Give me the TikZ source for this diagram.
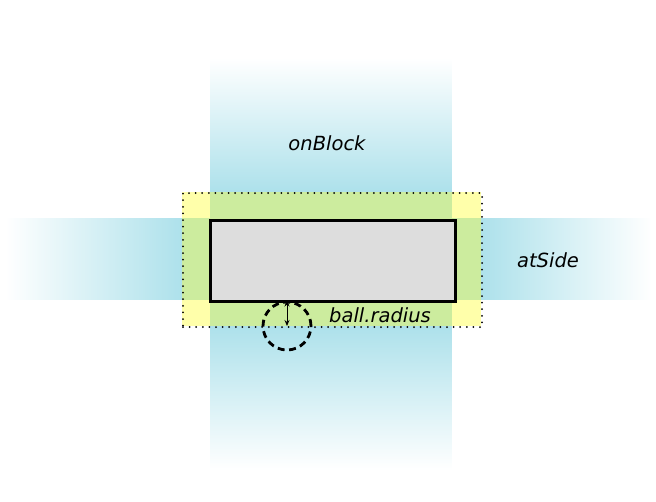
\documentclass[tikz,border=0pt]{standalone}
\usepackage{fontspec}
\setmainfont{DejaVu Sans}
\usetikzlibrary{arrows.meta}
\definecolor{bandcyan}{RGB}{173,225,235}
\definecolor{zoneyellow}{RGB}{255,255,170}
\definecolor{zonegreen}{RGB}{204,236,158}
\definecolor{blockgray}{RGB}{221,221,221}
\tikzset{
  lbl/.style={font=\fontsize{19.5}{23}\selectfont\itshape, inner sep=0pt},
  blockbox/.style={draw=black, line width=3pt, fill=blockgray},
  zonebox/.style={draw=black, line width=2pt, dash pattern=on 0pt off 6.6pt, line cap=round},
  ballcirc/.style={draw=black, line width=2.8pt, dash pattern=on 7pt off 4.5pt},
}
\begin{document}
\begin{tikzpicture}[x=1pt,y=-1pt]
\useasboundingbox (0,0) rectangle (656,501);
% vertical band
\shade[top color=white, bottom color=bandcyan] (210,58) rectangle (451.5,192);
\fill[bandcyan] (210,191.5) rectangle (451.5,326.5);
\shade[top color=bandcyan, bottom color=white] (210,326) rectangle (451.5,470);
% horizontal band
\shade[left color=white, right color=bandcyan] (5,218) rectangle (182.5,299.5);
\shade[left color=bandcyan, right color=white] (480.5,218) rectangle (652,299.5);
% zone
\fill[zoneyellow] (182,192) rectangle (481,326);
\fill[zonegreen] (210,192) rectangle (451.5,326);
\fill[zonegreen] (182,218) rectangle (481,299.5);
% block
\node[blockbox, minimum width=245pt, minimum height=81pt, inner sep=0pt, anchor=north west] (block) at (209,218.5) {};
% dotted zone outline
\node[zonebox, minimum width=299pt, minimum height=134pt, inner sep=0pt, anchor=north west] (zone) at (182,192) {};
% ball
\node[ballcirc, circle, minimum size=48pt, inner sep=0pt] (ball) at (287,326) {};
\coordinate (ballc) at (287,326);
\coordinate (ballt) at (287,300.5);
\draw[line width=0.9pt, {Stealth[length=6pt,width=5pt]}-{Stealth[length=6pt,width=5pt]}] (ballt) -- (ballc);
% labels
\node[lbl] (onblock) at (327,143) {onBlock};
\node[lbl] (atside) at (548,260) {atSide};
\node[lbl] (radius) at (380,315) {ball.radius};
\end{tikzpicture}
\end{document}
